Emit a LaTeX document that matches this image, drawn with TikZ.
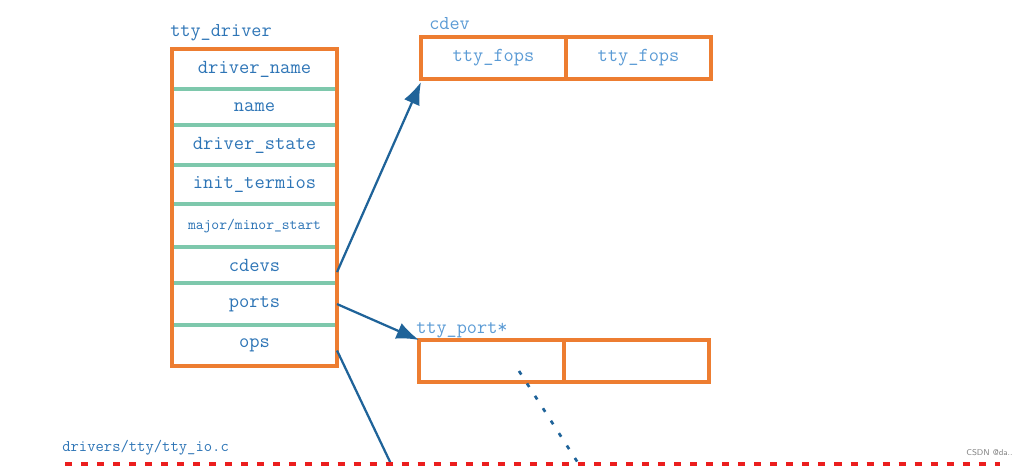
\documentclass[tikz,border=0pt]{standalone}
\usetikzlibrary{arrows.meta, positioning}
\definecolor{boxorange}{RGB}{237,125,49}
\definecolor{rowteal}{RGB}{126,200,172}
\definecolor{txtblue}{RGB}{46,117,182}
\definecolor{lightblue}{RGB}{91,155,213}
\definecolor{arrowblue}{RGB}{31,99,153}
\definecolor{iored}{RGB}{235,30,30}

\begin{document}
\begin{tikzpicture}[x=0.025cm,y=-0.025cm,row/.style={rectangle, draw=rowteal, line width=2.4pt, minimum width=4.125cm,
     inner sep=0pt, outer sep=0pt, font=\ttfamily\fontsize{14.2}{16}\selectfont, text=txtblue},cell/.style={rectangle,
     draw=boxorange, line width=2.4pt, minimum width=3.625cm, minimum height=1.05cm, inner sep=0pt, outer sep=0pt,
     font=\ttfamily\fontsize{14.1}{16}\selectfont, text=lightblue},lbl/.style={font=\ttfamily\fontsize{14}{16}\selectfont, inner sep=0pt},
     arrow/.style={draw=arrowblue, line width=1.6pt, -{Latex[length=16pt,width=12pt]}}]
     \useasboundingbox (0,0) rectangle (1034,466);
     % tty_driver
     \node (dname) [row, minimum height=1cm, anchor=north west] at (172,49) {driver\_name};
     \node (name) [row, minimum height=0.9cm, below=0pt of dname] {name};
     \node (dstate) [row, minimum height=1cm, below=0pt of name] {driver\_state};
     \node (termios) [row, minimum height=0.975cm, below=0pt of dstate] {init\_termios};
     \node (major) [row, minimum height=1.075cm, below=0pt of termios, font=\ttfamily\fontsize{10.6}{12}\selectfont] {major/minor\_start};
     \node (cdevs) [row, minimum height=0.9cm, below=0pt of major] {cdevs};
     \node (ports) [row, minimum height=1.05cm, below=0pt of cdevs] {ports};
     \node (ops) [row, minimum height=1.025cm, below=0pt of ports] {ops};
     \draw [boxorange, line width=2.4pt] (dname.north west) rectangle (ops.south east);
     \node (drvlbl) [lbl, text=txtblue, anchor=base west] at (170,37) {tty\_driver};
     % cdev
     \node (fops1) [cell, anchor=north west] at (421,37) {tty\_fops};
     \node (fops2) [cell, right=0pt of fops1] {tty\_fops};
     \node (cdevlbl) [lbl, text=lightblue, anchor=base west] at (429,30) {cdev};
     % tty_port
     \node (port1) [cell, anchor=north west] at (419,340) {};
     \node (port2) [cell, right=0pt of port1] {};
     \node (portlbl) [lbl, text=lightblue, anchor=base west] at (416,333) {tty\_port*};
     % links
     \coordinate (opsend) at (392,466);\coordinate (portptr) at (519,371);\coordinate (portend) at (580,466);
     \draw [arrow] ([shift={(0,7)}]cdevs.east) -- ([shift={(0,3)}]fops1.south west);
     \draw [arrow] (ports.east) -- (port1.north west);
     \draw [arrowblue, line width=1.6pt] ([shift={(0,5)}]ops.east) -- (opsend);
     \draw [arrowblue, line width=1.9pt, dash pattern=on 3pt off 7.5pt] (portptr) -- (portend);
     % tty_io.c
     \coordinate (iol) at (65,464);\coordinate (ior) at (1000,464);
     \draw [iored, line width=2.6pt, dash pattern=on 5pt off 6.4pt] (iol) -- (ior);
     \node (iolbl) [lbl, text=txtblue, font=\ttfamily\fontsize{11.5}{13}\selectfont, anchor=base west] at (62,451) {drivers/tty/tty\_io.c};
     \node (mark) [inner sep=0pt, text=gray, font=\sffamily\fontsize{6}{7}\selectfont, anchor=base west] at (966,455) {CSDN @da..};
\end{tikzpicture}
\end{document}
